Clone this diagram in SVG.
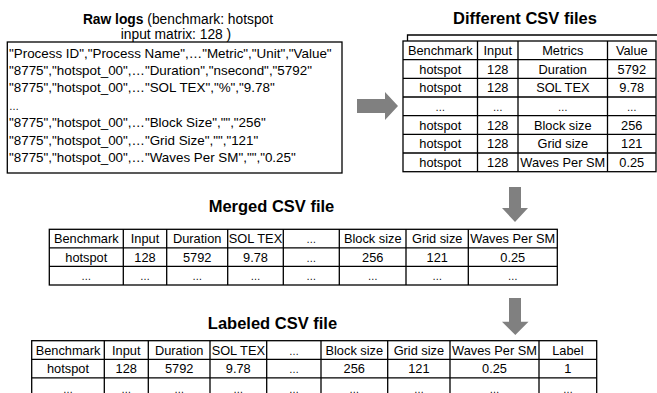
<svg xmlns="http://www.w3.org/2000/svg" width="657" height="393" viewBox="0 0 657 393">
<style>
text{font-family:"Liberation Sans",Arial,sans-serif;fill:#000}
.t{font-size:16.5px;font-weight:bold;text-anchor:middle}
.h{font-size:13.8px;text-anchor:middle}
.log{font-size:13.4px}
.c{font-size:12.8px;text-anchor:middle}
.e{font-size:10px;text-anchor:middle}
.el{font-size:10px}
.b{fill:#fff;stroke:#000;stroke-width:1.3}
.g{fill:none;stroke:#000;stroke-width:1.3}
.arr{fill:#808080;stroke:none}
</style>
<rect width="657" height="393" fill="#fff"/>

<g id="raw-logs">
<text class="h" x="178" y="23.5"><tspan font-weight="bold">Raw logs</tspan> (benchmark: hotspot</text>
<text class="h" x="176" y="39">input matrix: 128 )</text>
<rect class="b" x="7.3" y="42" width="334.7" height="131"/>
<text class="log" x="9" y="57.5">"Process ID","Process Name",…"Metric","Unit","Value"</text>
<text class="log" x="9" y="75">"8775","hotspot_00",…"Duration","nsecond","5792"</text>
<text class="log" x="9" y="92">"8775","hotspot_00",…"SOL TEX","%","9.78"</text>
<text class="el" x="9" y="109.5">…</text>
<text class="log" x="9" y="127">"8775","hotspot_00",…"Block Size","","256"</text>
<text class="log" x="9" y="144.5">"8775","hotspot_00",…"Grid Size","","121"</text>
<text class="log" x="9" y="162">"8775","hotspot_00",…"Waves Per SM","","0.25"</text>
</g>

<g id="different-csv">
<text class="t" x="525" y="24.3">Different CSV files</text>
<path class="g" d="M407.5 41V35H657"/>
<rect class="b" x="403" y="41" width="253" height="130.7"/>
<path class="g" d="M477.5 41V171.7M518 41V171.7M607.5 41V171.7M403 59.7H656M403 78.3H656M403 97H656M403 115.7H656M403 134.3H656M403 153H656"/>
<text class="c" x="440.3" y="55">Benchmark</text><text class="c" x="497.8" y="55">Input</text><text class="c" x="562.8" y="55">Metrics</text><text class="c" x="631.8" y="55">Value</text>
<text class="c" x="440.3" y="73.7">hotspot</text><text class="c" x="497.8" y="73.7">128</text><text class="c" x="562.8" y="73.7">Duration</text><text class="c" x="631.8" y="73.7">5792</text>
<text class="c" x="440.3" y="92.3">hotspot</text><text class="c" x="497.8" y="92.3">128</text><text class="c" x="562.8" y="92.3">SOL TEX</text><text class="c" x="631.8" y="92.3">9.78</text>
<text class="e" x="440.3" y="111">…</text><text class="e" x="497.8" y="111">…</text><text class="e" x="562.8" y="111">…</text><text class="e" x="631.8" y="111">…</text>
<text class="c" x="440.3" y="129.7">hotspot</text><text class="c" x="497.8" y="129.7">128</text><text class="c" x="562.8" y="129.7">Block size</text><text class="c" x="631.8" y="129.7">256</text>
<text class="c" x="440.3" y="148.3">hotspot</text><text class="c" x="497.8" y="148.3">128</text><text class="c" x="562.8" y="148.3">Grid size</text><text class="c" x="631.8" y="148.3">121</text>
<text class="c" x="440.3" y="167">hotspot</text><text class="c" x="497.8" y="167">128</text><text class="c" x="562.8" y="167">Waves Per SM</text><text class="c" x="631.8" y="167">0.25</text>
</g>

<g id="merged-csv">
<text class="t" x="271.5" y="211.5">Merged CSV file</text>
<rect class="b" x="49.3" y="229.3" width="508" height="55.7"/>
<path class="g" d="M123.3 229.3V285M166.7 229.3V285M227.7 229.3V285M283.3 229.3V285M339.3 229.3V285M406 229.3V285M468.3 229.3V285M49.3 247.8H557.3M49.3 266.4H557.3"/>
<text class="c" x="86.3" y="243.3">Benchmark</text><text class="c" x="145" y="243.3">Input</text><text class="c" x="197.2" y="243.3">Duration</text><text class="c" x="255.5" y="243.3">SOL TEX</text><text class="e" x="311.3" y="243.3">…</text><text class="c" x="372.7" y="243.3">Block size</text><text class="c" x="437.2" y="243.3">Grid size</text><text class="c" x="512.8" y="243.3">Waves Per SM</text>
<text class="c" x="86.3" y="261.8">hotspot</text><text class="c" x="145" y="261.8">128</text><text class="c" x="197.2" y="261.8">5792</text><text class="c" x="255.5" y="261.8">9.78</text><text class="e" x="311.3" y="261.8">…</text><text class="c" x="372.7" y="261.8">256</text><text class="c" x="437.2" y="261.8">121</text><text class="c" x="512.8" y="261.8">0.25</text>
<text class="e" x="86.3" y="280.4">…</text><text class="e" x="145" y="280.4">…</text><text class="e" x="197.2" y="280.4">…</text><text class="e" x="255.5" y="280.4">…</text><text class="e" x="311.3" y="280.4">…</text><text class="e" x="372.7" y="280.4">…</text><text class="e" x="437.2" y="280.4">…</text><text class="e" x="512.8" y="280.4">…</text>
</g>

<g id="labeled-csv">
<text class="t" x="272.5" y="329.3">Labeled CSV file</text>
<rect class="b" x="31.7" y="340.7" width="565" height="56"/>
<path class="g" d="M104.3 340.7V397M148.3 340.7V397M210 340.7V397M266.7 340.7V397M321 340.7V397M387.7 340.7V397M450 340.7V397M539 340.7V397M31.7 359.3H596.7M31.7 377.8H596.7"/>
<text class="c" x="68" y="354.7">Benchmark</text><text class="c" x="126.3" y="354.7">Input</text><text class="c" x="179.2" y="354.7">Duration</text><text class="c" x="238.3" y="354.7">SOL TEX</text><text class="e" x="293.9" y="354.7">…</text><text class="c" x="354.3" y="354.7">Block size</text><text class="c" x="418.9" y="354.7">Grid size</text><text class="c" x="494.5" y="354.7">Waves Per SM</text><text class="c" x="567.9" y="354.7">Label</text>
<text class="c" x="68" y="373.3">hotspot</text><text class="c" x="126.3" y="373.3">128</text><text class="c" x="179.2" y="373.3">5792</text><text class="c" x="238.3" y="373.3">9.78</text><text class="e" x="293.9" y="373.3">…</text><text class="c" x="354.3" y="373.3">256</text><text class="c" x="418.9" y="373.3">121</text><text class="c" x="494.5" y="373.3">0.25</text><text class="c" x="567.9" y="373.3">1</text>
<text class="e" x="68" y="392.5">…</text><text class="e" x="126.3" y="392.5">…</text><text class="e" x="179.2" y="392.5">…</text><text class="e" x="238.3" y="392.5">…</text><text class="e" x="293.9" y="392.5">…</text><text class="e" x="354.3" y="392.5">…</text><text class="e" x="418.9" y="392.5">…</text><text class="e" x="494.5" y="392.5">…</text><text class="e" x="567.9" y="392.5">…</text>
</g>

<g id="connectors">
<polygon class="arr" points="357,99 385,99 385,92 398,106 385,120 385,113 357,113"/>
<polygon class="arr" points="509,187 521,187 521,208 528,208 515,222 502,208 509,208"/>
<polygon class="arr" points="509,298 521,298 521,321.7 528.5,321.7 515.3,335 502,321.7 509,321.7"/>
</g>
</svg>
